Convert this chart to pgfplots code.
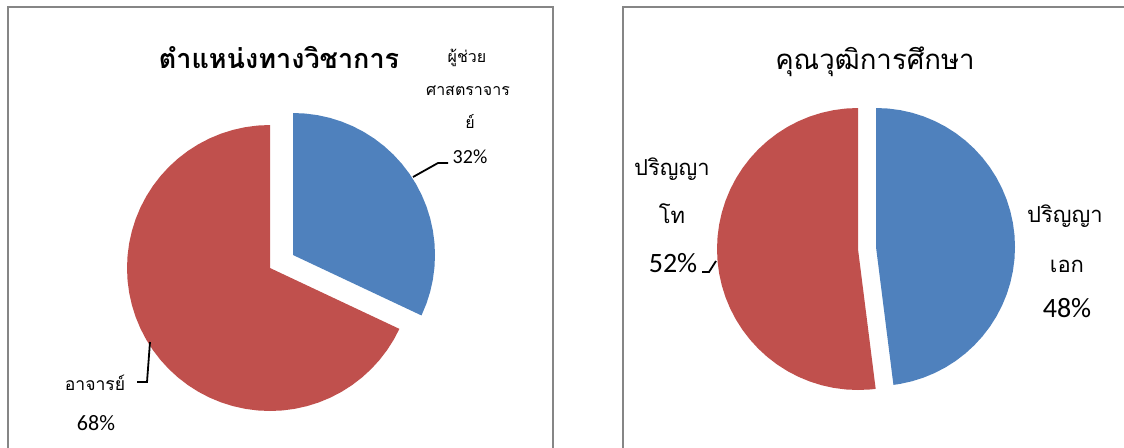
\documentclass[border=0pt]{standalone}
\usepackage{fontspec}
\setmainfont{Carlito}
\newfontfamily\thai[Script=Thai]{Loma}
\usepackage{pgfplots}
\pgfplotsset{compat=1.18}
\definecolor{pieblue}{RGB}{79,129,189}
\definecolor{piered}{RGB}{192,80,77}
\definecolor{framegray}{RGB}{134,134,134}
\begin{document}
\begin{tikzpicture}
\clip (0,0) rectangle (562pt,223.5pt);
\begin{axis}[x=0.5pt,y=0.5pt,xmin=0,xmax=1124,ymin=0,ymax=447,hide axis,clip=false,
  anchor=south west,at={(0,0)},scale only axis]
% frames
\addplot[draw=framegray,line width=1pt] coordinates {(8,-20) (8,440) (553,440) (553,-20)};
\addplot[draw=framegray,line width=1pt] coordinates {(623,-20) (623,440) (1140,440)};
% left pie: 32% blue (exploded), 68% red
\addplot[fill=piered,draw=none,data cs=polar,xshift=135pt,yshift=89.5pt] coordinates {
(0,0) (90,143) (95,143) (100,143) (105,143) (110,143) (115,143) (120,143) (125,143) (130,143)
(135,143) (140,143) (145,143) (150,143) (155,143) (160,143) (165,143) (170,143) (175,143)
(180,143) (185,143) (190,143) (195,143) (200,143) (205,143) (210,143) (215,143) (220,143)
(225,143) (230,143) (235,143) (240,143) (245,143) (250,143) (255,143) (260,143) (265,143)
(270,143) (275,143) (280,143) (285,143) (290,143) (295,143) (300,143) (305,143) (310,143)
(315,143) (320,143) (325,143) (330,143) (334.8,143) (0,0)} \closedcycle;
\addplot[fill=pieblue,draw=none,data cs=polar,xshift=146.5pt,yshift=96pt] coordinates {
(0,0) (-25.2,142) (-20,142) (-15,142) (-10,142) (-5,142) (0,142) (5,142) (10,142) (15,142)
(20,142) (25,142) (30,142) (35,142) (40,142) (45,142) (50,142) (55,142) (60,142) (65,142)
(70,142) (75,142) (80,142) (85,142) (90,142) (0,0)} \closedcycle;
% right pie: 48% blue, 52% red (both exploded)
\addplot[fill=piered,draw=none,data cs=polar,xshift=429pt,yshift=99pt] coordinates {
(0,0) (90,141) (95,141) (100,141) (105,141) (110,141) (115,141) (120,141) (125,141) (130,141)
(135,141) (140,141) (145,141) (150,141) (155,141) (160,141) (165,141) (170,141) (175,141)
(180,141) (185,141) (190,141) (195,141) (200,141) (205,141) (210,141) (215,141) (220,141)
(225,141) (230,141) (235,141) (240,141) (245,141) (250,141) (255,141) (260,141) (265,141)
(270,141) (275,141) (277.2,141) (0,0)} \closedcycle;
\addplot[fill=pieblue,draw=none,data cs=polar,xshift=438pt,yshift=100pt] coordinates {
(0,0) (-82.8,139) (-80,139) (-75,139) (-70,139) (-65,139) (-60,139) (-55,139) (-50,139)
(-45,139) (-40,139) (-35,139) (-30,139) (-25,139) (-20,139) (-15,139) (-10,139) (-5,139)
(0,139) (5,139) (10,139) (15,139) (20,139) (25,139) (30,139) (35,139) (40,139) (45,139)
(50,139) (55,139) (60,139) (65,139) (70,139) (75,139) (80,139) (85,139) (90,139) (0,0)} \closedcycle;
% leader lines
\addplot[black,line width=0.9pt] coordinates {(413,270) (438,284) (448,284)};
\addplot[black,line width=0.9pt] coordinates {(150,105) (147,65) (137,65)};
\addplot[black,line width=0.9pt] coordinates {(702,175) (709,175) (716,186)};
% titles
\node[anchor=base,font=\thai\bfseries\fontsize{13.5pt}{16pt}\selectfont] at (axis cs:279,379) {ตำแหน่งทางวิชาการ};
\node[anchor=base,font=\thai\fontsize{13.8pt}{17pt}\selectfont] at (axis cs:875,378) {คุณวุฒิการศึกษา};
% left labels
\node[anchor=base,inner sep=0,font=\thai\fontsize{8pt}{9pt}\selectfont] at (axis cs:467,385) {ผู้ช่วย};
\node[anchor=base,inner sep=0,font=\thai\fontsize{8pt}{9pt}\selectfont] at (axis cs:468,352) {ศาสตราจาร};
\node[anchor=base,inner sep=0,font=\thai\fontsize{8pt}{9pt}\selectfont] at (axis cs:470,319) {ย์};
\node[anchor=base,inner sep=0,font=\fontsize{10pt}{11pt}\selectfont] at (axis cs:470,284) {32\%};
\node[anchor=base,inner sep=0,font=\thai\fontsize{8.8pt}{9pt}\selectfont] at (axis cs:95,57) {อาจารย์};
\node[anchor=base,inner sep=0,font=\fontsize{11pt}{12pt}\selectfont] at (axis cs:96,17) {68\%};
% right labels
\node[anchor=base,inner sep=0,font=\thai\fontsize{11pt}{12pt}\selectfont] at (axis cs:672,272) {ปริญญา};
\node[anchor=base,inner sep=0,font=\thai\fontsize{11pt}{12pt}\selectfont] at (axis cs:672,224) {โท};
\node[anchor=base,inner sep=0,font=\fontsize{14pt}{15pt}\selectfont] at (axis cs:673,175) {52\%};
\node[anchor=base,inner sep=0,font=\thai\fontsize{11pt}{12pt}\selectfont] at (axis cs:1065,225) {ปริญญา};
\node[anchor=base,inner sep=0,font=\thai\fontsize{11pt}{12pt}\selectfont] at (axis cs:1067,175) {เอก};
\node[anchor=base,inner sep=0,font=\fontsize{14pt}{15pt}\selectfont] at (axis cs:1067,130) {48\%};
\end{axis}
\end{tikzpicture}
\end{document}
